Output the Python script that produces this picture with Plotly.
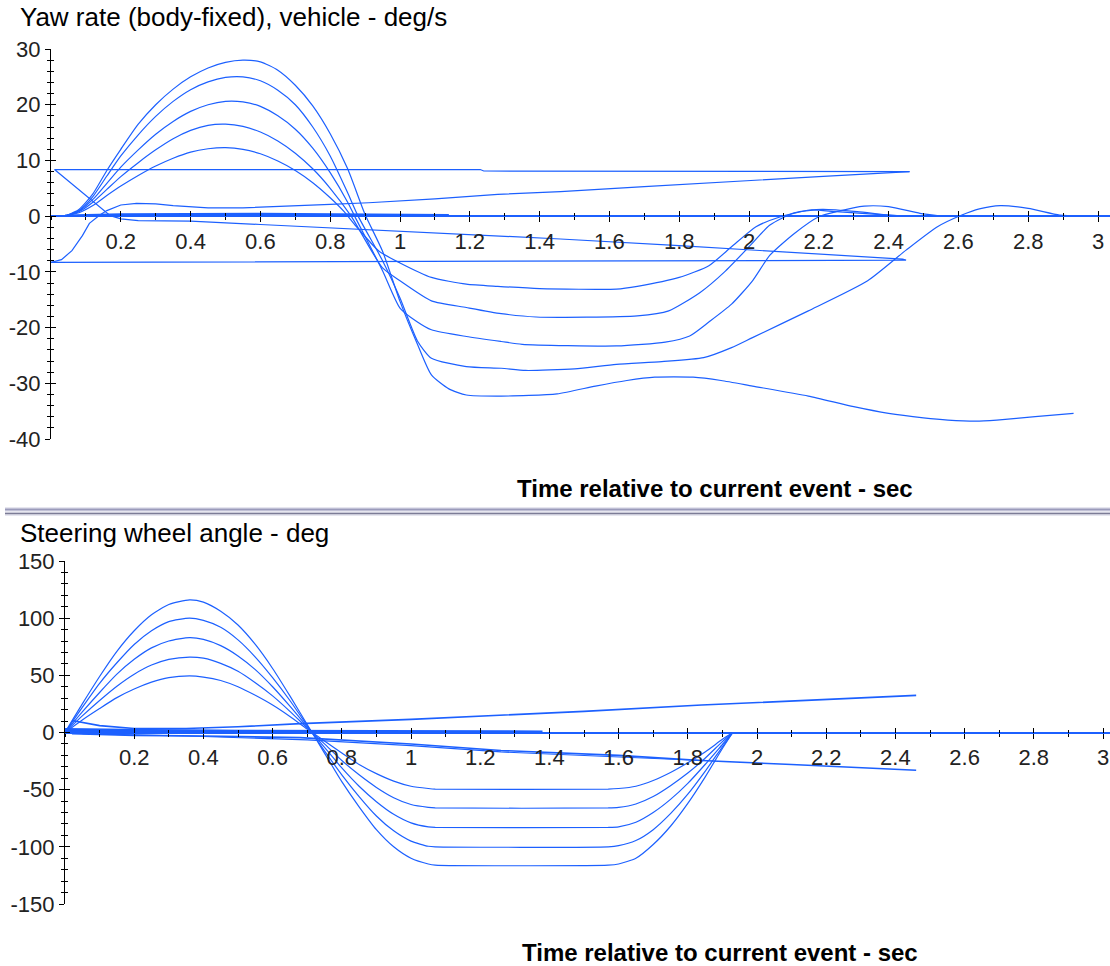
import plotly.graph_objects as go

# ---------------- data: top chart (yaw rate, deg/s) ----------------
tA = [0.04,0.08,0.12,0.16,0.20,0.25,0.30,0.35,0.40,0.45,0.50,0.55,0.60,0.65,0.70,0.75,0.80,0.85,0.90,
      0.95,1.00,1.05,1.09,1.14,1.19,1.29,1.45,1.56,1.65,1.73,1.84,1.92,2.01,2.17,2.30,2.40,2.50,2.57,2.65,2.71,2.82,2.93]
yawA = [0,1.2,4.0,8.2,12.0,16.5,20.0,22.8,25.0,26.6,27.6,28.0,27.7,26.2,23.5,19.8,14.8,8.5,0.3,
        -6.3,-15.3,-23.0,-28.5,-31.0,-32.1,-32.3,-31.9,-30.5,-29.5,-28.9,-28.9,-29.5,-30.5,-32.3,-34.2,-35.4,-36.2,-36.6,-36.8,-36.6,-36.0,-35.4]

tB = [0.04,0.08,0.12,0.16,0.20,0.25,0.30,0.35,0.40,0.45,0.50,0.55,0.60,0.65,0.70,0.75,0.80,0.85,0.88,
      0.95,1.00,1.05,1.09,1.19,1.29,1.36,1.50,1.62,1.75,1.87,1.95,2.01,2.17,2.34,2.45,2.54,2.61,2.66,2.72,2.80,2.89,2.95,3.05]
yawB = [0,1.0,3.5,7.2,10.8,14.6,17.9,20.6,22.7,24.1,24.9,25.0,24.3,22.6,20.0,16.0,10.8,4.2,0.0,
        -8.0,-14.7,-22.4,-25.5,-27.0,-27.3,-27.7,-27.4,-26.6,-26.1,-25.4,-23.6,-21.8,-17.0,-11.6,-6.1,-1.9,0.2,1.3,1.9,1.4,0.2,0,0]

tC = [0.04,0.08,0.12,0.16,0.20,0.25,0.30,0.35,0.40,0.45,0.50,0.55,0.60,0.65,0.70,0.75,0.80,0.85,0.87,
      0.95,1.00,1.05,1.09,1.19,1.29,1.35,1.62,1.76,1.83,1.885,1.95,2.01,2.06,2.13,2.20,2.25,2.33,2.40,2.49,2.55]
yawC = [0,0.9,3.0,5.9,8.8,11.9,14.7,17.0,18.8,20.0,20.6,20.5,19.7,18.0,15.6,12.2,7.8,2.5,0,
        -9.8,-16.5,-19.0,-20.4,-21.6,-22.5,-23.0,-23.3,-22.6,-21.5,-19.0,-15.8,-11.6,-7.0,-3.1,-0.1,0.8,1.8,1.7,0.5,0]

tD = [0.04,0.08,0.12,0.16,0.20,0.25,0.30,0.35,0.40,0.45,0.50,0.55,0.60,0.65,0.70,0.75,0.80,0.86,
      0.95,1.00,1.09,1.19,1.29,1.39,1.68,1.77,1.86,1.93,2.00,2.06,2.13,2.21,2.31,2.40,2.46]
yawD = [0,0.8,2.5,4.8,7.1,9.6,11.9,13.9,15.4,16.3,16.5,16.1,15.1,13.5,11.3,8.5,5.0,0,
        -9.3,-11.6,-15.2,-16.4,-17.5,-18.1,-17.9,-17.0,-13.7,-10.0,-5.5,-1.6,0.6,1.2,0.8,0.2,0]

tE = [0.04,0.08,0.12,0.16,0.20,0.25,0.30,0.35,0.40,0.45,0.50,0.55,0.60,0.65,0.70,0.75,0.80,0.84,0.87,
      0.94,1.00,1.09,1.19,1.28,1.40,1.62,1.68,1.80,1.885,1.95,2.02,2.086,2.175,2.25,2.40,2.45]
yawE = [0,0.6,1.9,3.7,5.4,7.3,9.0,10.4,11.5,12.1,12.3,12.0,11.2,9.9,8.2,6.0,3.3,0.8,-1.5,
        -6.3,-8.4,-11.0,-12.2,-12.6,-13.0,-13.1,-12.6,-11.0,-8.9,-5.5,-1.9,-0.2,1.1,0.8,0.2,0]

# slowly increasing runs and connecting segments (top)
tRampUp = [0.0,0.03,0.06,0.09,0.11,0.14,0.16,0.20,0.245,0.30,0.35,0.45,0.55,0.65,0.80,0.91,1.10,1.28,1.46,1.70,2.00,2.20,2.46]
yawRampUp = [-8.3,-7.8,-6.2,-3.5,-1.3,0.2,1.0,2.0,2.3,2.2,1.9,1.5,1.5,1.7,2.1,2.4,3.1,3.9,4.4,5.3,6.3,7.1,8.0]

tRampDown = [2.46,1.24,1.23,0.01,0.17,0.20,0.25,0.40,0.60,0.91,1.00,1.17,1.46,1.80,2.10,2.44,2.45,1.20,0.0]
yawRampDown = [8.0,8.1,8.36,8.36,0.1,-0.5,-0.8,-0.9,-1.5,-2.4,-2.7,-3.2,-4.1,-5.3,-6.4,-7.7,-7.9,-8.1,-8.3]

tNearZero = [0.04,0.20,0.60,1.14]
yawNearZero = [0.1,0.3,0.4,0.2]

# ---------------- data: bottom chart (steering wheel angle, deg) ----------------
tSteer = [0,0.05,0.1,0.15,0.2,0.25,0.3,0.36,0.4,0.45,0.5,0.55,0.6,0.65,0.7,0.75,0.8,0.85,0.9,0.95,
          1.0,1.05,1.07,1.57,1.6,1.65,1.7,1.75,1.8,1.85,1.9,1.93]
swa116 = [0,25,49,71,89,103,112,116,114,106,94,77,56,32,7,-18,-43,-65,-85,-100,
          -110,-115,-116,-116,-115,-110,-98,-82,-62,-39,-14,0]
swa100 = [0,22,43,61,77,89,97,100,98,92,81,66,48,28,6,-16,-37,-56,-73,-86,
          -95,-99.5,-100,-100,-99,-94.5,-85,-71,-54,-34,-12.5,0]
swa83 = [0,18,35,51,64,74,80,83,81.5,76,67,55,40,23,5,-13,-31,-47,-60.5,-71.5,
         -79,-82.5,-83,-83,-82.5,-78.5,-70,-58.5,-44.5,-28,-10.5,0]
swa66 = [0,14.5,28,40.5,51,59,64,66,65,60.5,53.5,43.5,32,18.5,4,-10,-24.5,-37,-48,-57,
         -63,-65.5,-66,-66,-65.5,-62.5,-56,-46.5,-35.5,-22.5,-8,0]
swa50 = [0,11,21,30.5,38,44,48,49.5,48.5,45.5,40,32.5,24,14,3,-7.5,-18,-28,-36,-42.5,
         -47,-49,-49.5,-49.5,-49,-47,-42,-35,-26.5,-17,-6,0]

tSwaUp = [0.02,0.1,0.2,0.35,0.5,0.68,1.0,1.26,1.5,1.84,2.1,2.46]
swaUp = [10.5,6,3.5,3.5,5,7.8,11.5,14.8,18.5,24.0,27.8,32.5]
tSwaDown = [0.02,0.2,0.4,0.68,1.0,1.26,1.6,1.84,2.1,2.46]
swaDown = [-1,-2.5,-3,-4.5,-10,-15.7,-20,-24.5,-28,-33]
tSwaDown2 = [0.05,0.4,0.7,1.0,1.26,1.6,1.84]
swaDown2 = [-1,-3.5,-6.5,-11.5,-17,-21.5,-24.5]
tSwaBand = [0.0,0.4,0.75,1.38]
swaBand = [1.5,1.2,1.0,0.5]
tSwaBand2 = [0.0,0.3,0.75]
swaBand2 = [3.0,2.0,0.5]

# ---------------- tick labels ----------------
x_tickvals = [0.2,0.4,0.6,0.8,1.0,1.2,1.4,1.6,1.8,2.0,2.2,2.4,2.6,2.8,3.0]
x_ticktext = ["0.2","0.4","0.6","0.8","1","1.2","1.4","1.6","1.8","2","2.2","2.4","2.6","2.8","3"]
yaw_tickvals = [30,20,10,0,-10,-20,-30,-40]
yaw_ticktext = ["30","20","10","0","-10","-20","-30","-40"]
swa_tickvals = [150,100,50,0,-50,-100,-150]
swa_ticktext = ["150","100","50","0","-50","-100","-150"]

# ---------------- layout geometry ----------------
W, H = 1110, 966
BLUE = "rgb(28,96,255)"
FONT = "Liberation Sans, Arial, sans-serif"

top_xdom = [51 / W, 1.0]
top_ydom = [(H - 439) / H, (H - 49) / H]
top_xr = [0, (W - 51) / 349]
top_yr = [-40, 30]
bot_xdom = [65 / W, 1.0]
bot_ydom = [(H - 904) / H, (H - 561) / H]
bot_xr = [0, (W - 65) / 346]
bot_yr = [-150, 150]

def zero_pos(dom, rng):
    return dom[0] + (0 - rng[0]) / (rng[1] - rng[0]) * (dom[1] - dom[0])

top_zero = zero_pos(top_ydom, top_yr)
bot_zero = zero_pos(bot_ydom, bot_yr)

fig = go.Figure()

def add_line(x, y, xa, ya, width=1.2):
    fig.add_trace(go.Scatter(x=x, y=y, mode="lines", xaxis=xa, yaxis=ya,
                             line=dict(color=BLUE, width=width, shape="spline", smoothing=0.6),
                             showlegend=False, hoverinfo="skip"))

def add_poly(x, y, xa, ya, width=1.2):
    fig.add_trace(go.Scatter(x=x, y=y, mode="lines", xaxis=xa, yaxis=ya,
                             line=dict(color=BLUE, width=width),
                             showlegend=False, hoverinfo="skip"))

# top traces
add_poly(tRampDown, yawRampDown, "x", "y")
add_poly(tRampUp, yawRampUp, "x", "y")
add_poly(tNearZero, yawNearZero, "x", "y", 2.2)
for tt, yy in [(tA, yawA), (tB, yawB), (tC, yawC), (tD, yawD), (tE, yawE)]:
    add_line(tt, yy, "x", "y")

# bottom traces
add_poly(tSwaUp, swaUp, "x2", "y2", 1.6)
add_poly(tSwaDown, swaDown, "x2", "y2", 1.6)
add_poly(tSwaDown2, swaDown2, "x2", "y2", 1.2)
add_poly(tSwaBand, swaBand, "x2", "y2", 3.0)
add_poly(tSwaBand2, swaBand2, "x2", "y2", 2.0)
for yy in [swa116, swa100, swa83, swa66, swa50]:
    add_line(tSteer, yy, "x2", "y2")

# dummy traces so overlay tick axes render
for xa, ya in [("x3", "y"), ("x", "y3"), ("x4", "y2"), ("x2", "y4")]:
    fig.add_trace(go.Scatter(x=[None], y=[None], xaxis=xa, yaxis=ya,
                             showlegend=False, hoverinfo="skip"))

tickfont = dict(family=FONT, size=22, color="#222")

def xaxis_main(dom, rng, pos):
    return dict(domain=dom, range=rng, anchor="free", position=pos, side="bottom",
                showline=True, linecolor=BLUE, linewidth=2, automargin=False,
                ticks="outside", ticklen=5, tickcolor="black", tickwidth=1,
                tickmode="array", tickvals=x_tickvals, ticktext=x_ticktext,
                tickfont=tickfont, showgrid=False, zeroline=False,
                minor=dict(ticks="outside", ticklen=3, tickcolor="black", tickmode="linear",
                           tick0=0, dtick=0.1, showgrid=False),
                fixedrange=True)

def xaxis_over(dom, rng, pos, over):
    return dict(domain=dom, range=rng, anchor="free", position=pos, side="bottom",
                overlaying=over, showline=False, automargin=False,
                ticks="inside", ticklen=5, tickcolor="black", tickwidth=1,
                tickmode="array", tickvals=x_tickvals, showticklabels=False,
                showgrid=False, zeroline=False,
                minor=dict(ticks="inside", ticklen=3, tickcolor="black", tickmode="linear",
                           tick0=0, dtick=0.1, showgrid=False),
                fixedrange=True)

def yaxis_main(dom, rng, xref, vals, texts, mdt):
    return dict(domain=dom, range=rng, anchor=xref, side="left",
                showline=True, linecolor="black", linewidth=1, automargin=False,
                ticks="outside", ticklen=5, tickcolor="black", tickwidth=1,
                tickmode="array", tickvals=vals, ticktext=texts,
                tickfont=tickfont, showgrid=False, zeroline=False,
                minor=dict(ticks="outside", ticklen=3, tickcolor="black", tickmode="linear",
                           tick0=0, dtick=mdt, showgrid=False),
                fixedrange=True)

def yaxis_over(dom, rng, xref, over, vals, mdt):
    return dict(domain=dom, range=rng, anchor=xref, side="left", overlaying=over,
                showline=False, automargin=False,
                ticks="inside", ticklen=5, tickcolor="black", tickwidth=1,
                tickmode="array", tickvals=vals, showticklabels=False,
                showgrid=False, zeroline=False,
                minor=dict(ticks="inside", ticklen=3, tickcolor="black", tickmode="linear",
                           tick0=0, dtick=mdt, showgrid=False),
                fixedrange=True)

fig.update_layout(
    width=W, height=H, autosize=False,
    margin=dict(l=0, r=0, t=0, b=0, pad=0, autoexpand=False),
    paper_bgcolor="white", plot_bgcolor="white",
    showlegend=False,
    xaxis=xaxis_main(top_xdom, top_xr, top_zero),
    yaxis=yaxis_main(top_ydom, top_yr, "x", yaw_tickvals, yaw_ticktext, 2),
    xaxis3=xaxis_over(top_xdom, top_xr, top_zero, "x"),
    yaxis3=yaxis_over(top_ydom, top_yr, "x", "y", yaw_tickvals, 2),
    xaxis2=xaxis_main(bot_xdom, bot_xr, bot_zero),
    yaxis2=yaxis_main(bot_ydom, bot_yr, "x2", swa_tickvals, swa_ticktext, 10),
    xaxis4=xaxis_over(bot_xdom, bot_xr, bot_zero, "x2"),
    yaxis4=yaxis_over(bot_ydom, bot_yr, "x2", "y2", swa_tickvals, 10),
)

def px_y(py):
    return 1 - py / H

annots = [
    dict(text="Yaw rate (body-fixed), vehicle - deg/s", x=18 / W, y=px_y(17), xanchor="left",
         yanchor="middle", font=dict(family=FONT, size=26, color="black")),
    dict(text="Steering wheel angle - deg", x=18 / W, y=px_y(533), xanchor="left",
         yanchor="middle", font=dict(family=FONT, size=26, color="black")),
    dict(text="<b>Time relative to current event - sec</b>", x=915 / W, y=px_y(488),
         xanchor="right", yanchor="middle", font=dict(family=FONT, size=24, color="black")),
    dict(text="<b>Time relative to current event - sec</b>", x=920 / W, y=px_y(952),
         xanchor="right", yanchor="middle", font=dict(family=FONT, size=24, color="black")),
]
for a in annots:
    fig.add_annotation(xref="paper", yref="paper", showarrow=False, **a)

# window splitter between the two panes
fig.add_shape(type="rect", xref="paper", yref="paper", x0=5 / W, x1=1, y0=px_y(516), y1=px_y(507),
              fillcolor="#e6e6ef", line=dict(width=0), layer="above")
fig.add_shape(type="line", xref="paper", yref="paper", x0=5 / W, x1=1, y0=px_y(509.5), y1=px_y(509.5),
              line=dict(color="#9a9abb", width=2), layer="above")
fig.add_shape(type="line", xref="paper", yref="paper", x0=5 / W, x1=1, y0=px_y(513.5), y1=px_y(513.5),
              line=dict(color="#7c7c96", width=1.5), layer="above")

fig.write_html("out.html")
